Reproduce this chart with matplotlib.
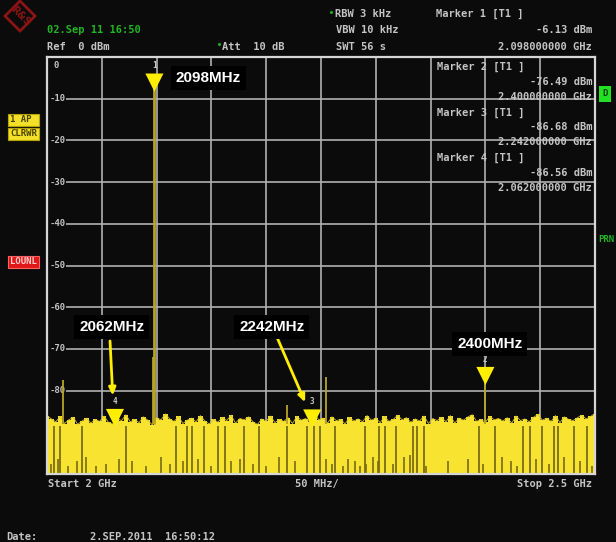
import matplotlib
matplotlib.use("Agg")
import matplotlib.pyplot as plt
import matplotlib.transforms as mtransforms
from matplotlib.patches import Polygon
import numpy as np

# sweep settings
f_start, f_stop = 2000, 2500          # MHz
ref_levels = [0, -10, -20, -30, -40, -50, -60, -70, -80, -90, -100]

# noise floor top, read across the sweep (dBm)
noise_top = [
    -86.0, -86.8, -87.5, -86.2, -87.9, -87.0, -86.4, -88.1, -87.3, -86.6,
    -87.8, -86.9, -87.4, -86.1, -87.6, -88.0, -86.7, -87.2, -85.8, -87.5,
    -86.9, -87.7, -86.3, -87.1, -88.2, -86.5, -87.0, -85.6, -86.8, -87.4,
    -86.2, -87.9, -87.1, -86.6, -87.5, -86.0, -87.3, -88.0, -86.9, -87.6,
    -86.4, -87.2, -85.9, -87.8, -86.7, -87.0, -86.3, -87.5, -88.1, -86.8,
    -87.3, -86.1, -87.7, -86.9, -87.4, -86.5, -87.9, -86.2, -87.1, -86.7,
    -87.6, -85.7, -87.0, -86.6, -87.8, -86.3, -87.2, -86.9, -88.0, -86.4,
    -87.3, -86.8, -87.5, -86.0, -87.1, -86.6, -87.7, -86.2, -87.4, -86.9,
    -85.9, -87.0, -86.5, -87.6, -86.8, -87.3, -86.1, -87.9, -86.7, -87.2,
    -86.4, -87.5, -86.0, -87.8, -86.6, -87.1, -86.3, -85.8, -87.4, -86.9,
    -87.6, -86.2, -87.0, -86.7, -87.3, -86.5, -87.8, -86.1, -87.2, -86.8,
    -87.5, -86.4, -85.7, -87.1, -86.6, -87.4, -86.0, -87.7, -86.3, -86.9,
    -87.2, -86.5, -85.9, -86.8, -86.2, -85.5,
]

# dark gaps through the trace (MHz)
dip_freqs = [2006, 2012, 2032, 2072, 2118, 2128, 2132, 2143, 2156, 2162,
             2180, 2193, 2219, 2237, 2244, 2249, 2263, 2290, 2303, 2308,
             2318, 2334, 2338, 2344, 2394, 2409, 2434, 2441, 2452, 2463,
             2466, 2481, 2493]

# short dark stubs at the bottom of the trace (MHz, dBm top)
stub_freqs = [2004, 2010, 2019, 2027, 2036, 2045, 2054, 2066, 2078, 2090,
              2104, 2112, 2124, 2138, 2150, 2168, 2176, 2188, 2200, 2212,
              2226, 2255, 2260, 2270, 2275, 2281, 2286, 2291, 2297, 2302,
              2316, 2326, 2331, 2346, 2366, 2384, 2398, 2415, 2423, 2429,
              2446, 2458, 2472, 2486, 2497]
stub_tops = [-97.5, -96.5, -98.0, -97.0, -96.0, -98.0, -97.5, -96.5, -97.0, -98.0,
             -96.0, -97.5, -97.0, -96.5, -98.0, -97.0, -96.5, -97.5, -98.0, -96.0,
             -97.0, -96.5, -97.5, -98.0, -96.5, -97.0, -98.0, -97.5, -96.0, -97.0,
             -97.5, -96.0, -95.5, -98.0, -97.0, -96.5, -97.5, -96.0, -97.0, -98.0,
             -96.5, -97.5, -96.0, -97.0, -98.0]

# discrete signals above the noise (MHz, dBm)
spur_freqs = [2015, 2097, 2098, 2219, 2255, 2400]
spur_levels = [-77.5, -72.0, -6.13, -83.5, -76.8, -76.49]

# markers
marker_ids = ["1", "2", "3", "4"]
marker_freqs = [2098, 2400, 2242, 2062]
marker_levels = [-6.13, -76.49, -86.68, -86.56]

W, H = 616, 542
BG = "#0b0b0b"
YEL = "#f8e430"
OLIVE = "#786d16"
GOLD = "#b8a424"
GRAY = "#c4c4c4"
GREEN = "#22b422"
MONO = "DejaVu Sans Mono"

fig = plt.figure(figsize=(W / 100, H / 100), dpi=100, facecolor=BG)
ax = fig.add_axes([47 / W, 1 - 474 / H, 548 / W, 417 / H], facecolor=BG)


def ptxt(x, y, s, **kw):
    """Text placed by pixel position on the figure."""
    kw.setdefault("va", "center")
    kw.setdefault("family", MONO)
    kw.setdefault("fontweight", "bold")
    kw.setdefault("fontsize", 7.5)
    kw.setdefault("color", GRAY)
    fig.text(x / W, 1 - y / H, s, **kw)


# trace
freqs = np.linspace(f_start, f_stop, len(noise_top))
ax.fill_between(freqs, -100, noise_top, step="mid", color=YEL, lw=0, zorder=5)
ax.plot(freqs, noise_top, color="#d8c42a", lw=0.6, zorder=5)
ax.vlines(dip_freqs, -100, -88.5, color=OLIVE, lw=1.3, zorder=5)
ax.vlines(stub_freqs, -100, stub_tops, color=OLIVE, lw=1.2, zorder=5)
for f, lvl in zip(spur_freqs, spur_levels):
    lw = 2.0 if lvl > -20 else 1.3
    ax.vlines(f, -88, lvl, color=GOLD, lw=lw, zorder=5)

# markers
ax.scatter(marker_freqs, marker_levels, marker="v", s=170, color="#ffee00",
           edgecolors="none", zorder=6, clip_on=False)
for mid, f, lvl in zip(marker_ids, marker_freqs, marker_levels):
    ax.annotate(mid, (f, lvl), xytext=(0, 12), textcoords="offset points",
                ha="center", va="center", fontsize=5.5, color=GRAY,
                family=MONO, fontweight="bold", zorder=6)

# grid and frame
ax.set_xlim(f_start, f_stop)
ax.set_ylim(-100, 0)
ax.set_xticks(np.arange(f_start, f_stop + 1, 50))
ax.set_yticks(ref_levels)
ax.grid(True, color="#b0b0b0", lw=1.2)
ax.set_axisbelow(True)
ax.tick_params(length=0, labelbottom=False, labelleft=False)
for sp in ax.spines.values():
    sp.set_color("#d6d6d6")
    sp.set_linewidth(1.6)
    sp.set_zorder(7)

# level labels inside the grid (the -90 one sits under the trace)
trans = mtransforms.blended_transform_factory(ax.transAxes, ax.transData)
ax.text(0.012, -2, "0", transform=trans, ha="left", va="center",
        fontsize=6.5, color=GRAY, family=MONO, fontweight="bold")
for lvl in ref_levels[1:-1]:
    ax.text(0.004, lvl, f"-{abs(lvl)}", transform=trans, ha="left", va="center",
            fontsize=6.5, color=GRAY, family=MONO, fontweight="bold", zorder=4,
            bbox=dict(fc=BG, ec="none", pad=0.6))

# marker table inside the grid
rows = [("Marker 2 [T1 ]", "-76.49 dBm", "2.400000000 GHz"),
        ("Marker 3 [T1 ]", "-86.68 dBm", "2.242000000 GHz"),
        ("Marker 4 [T1 ]", "-86.56 dBm", "2.062000000 GHz")]
for i, (a, b, c) in enumerate(rows):
    y0 = 67 + i * 45.5
    ptxt(437, y0, a)
    ptxt(592, y0 + 15, b, ha="right")
    ptxt(592, y0 + 30, c, ha="right")

# callouts
box = dict(fc="black", ec="none", pad=3.5)
callout_kw = dict(fontsize=11, fontweight="bold", color="white",
                  family="Liberation Sans", ha="center", va="center", zorder=8)
ax.text(2147, -5.0, "2098MHz", bbox=box, **callout_kw)
ax.text(2404, -68.8, "2400MHz", bbox=box, **callout_kw)
ax.text(2059, -64.7, "2062MHz", bbox=box, **callout_kw)
ax.text(2205, -64.7, "2242MHz", bbox=box, **callout_kw)
arrow = dict(arrowstyle="-|>,head_length=0.45,head_width=0.2", color="#ffee00",
             lw=2.0, shrinkA=0, shrinkB=0)
ax.annotate("", xy=(2060, -81.2), xytext=(2057.5, -68.1), arrowprops=arrow, zorder=7)
ax.annotate("", xy=(2235.5, -82.8), xytext=(2210.5, -67.6), arrowprops=arrow, zorder=7)

# header
ptxt(47, 30, "02.Sep 11 16:50", color=GREEN)
ptxt(47, 47, "Ref  0 dBm")
ptxt(217, 46, "\u2022", color=GREEN, fontsize=6)
ptxt(222, 47, "Att  10 dB")
ptxt(329, 13, "\u2022", color=GREEN, fontsize=6)
ptxt(335, 14, "RBW 3 kHz")
ptxt(336, 30, "VBW 10 kHz")
ptxt(336, 47, "SWT 56 s")
ptxt(436, 14, "Marker 1 [T1 ]")
ptxt(592, 30, "-6.13 dBm", ha="right")
ptxt(592, 47, "2.098000000 GHz", ha="right")

# footer
ptxt(48, 484, "Start 2 GHz")
ptxt(295, 484, "50 MHz/")
ptxt(592, 484, "Stop 2.5 GHz", ha="right")
ptxt(6, 537, "Date:")
ptxt(90, 537, "2.SEP.2011  16:50:12")

# side indicators
side = dict(fontsize=6.5, ha="left")
ptxt(10, 120, "1 AP ", color="#4a4400",
     bbox=dict(fc="#f2e02a", ec="#b8a400", lw=0.8, pad=1.2), **side)
ptxt(10, 134, "CLRWR", color="#4a4400",
     bbox=dict(fc="#f2e02a", ec="#b8a400", lw=0.8, pad=1.2), **side)
ptxt(10, 262, "LOUNL", color="#ffd0d0",
     bbox=dict(fc="#e01818", ec="#ff6060", lw=0.8, pad=1.2), **side)
ptxt(602, 94, "D", color="#104010",
     bbox=dict(fc="#22e022", ec="none", pad=2.5), **side)
ptxt(598, 240, "PRN", color=GREEN, **side)

# R&S logo
cx, cy, r = 20, 16, 15
diamond = [(cx / W, 1 - (cy - r) / H), ((cx + r) / W, 1 - cy / H),
           (cx / W, 1 - (cy + r) / H), ((cx - r) / W, 1 - cy / H)]
fig.patches.append(Polygon(diamond, closed=True, fill=False, ec="#8a1414",
                           lw=2.0, transform=fig.transFigure, figure=fig))
ptxt(20, 16, "R&S", color="#8a1414", ha="center", fontsize=7,
     rotation=-45, family="DejaVu Sans")

fig.savefig("out.png", dpi=100, facecolor=BG)
